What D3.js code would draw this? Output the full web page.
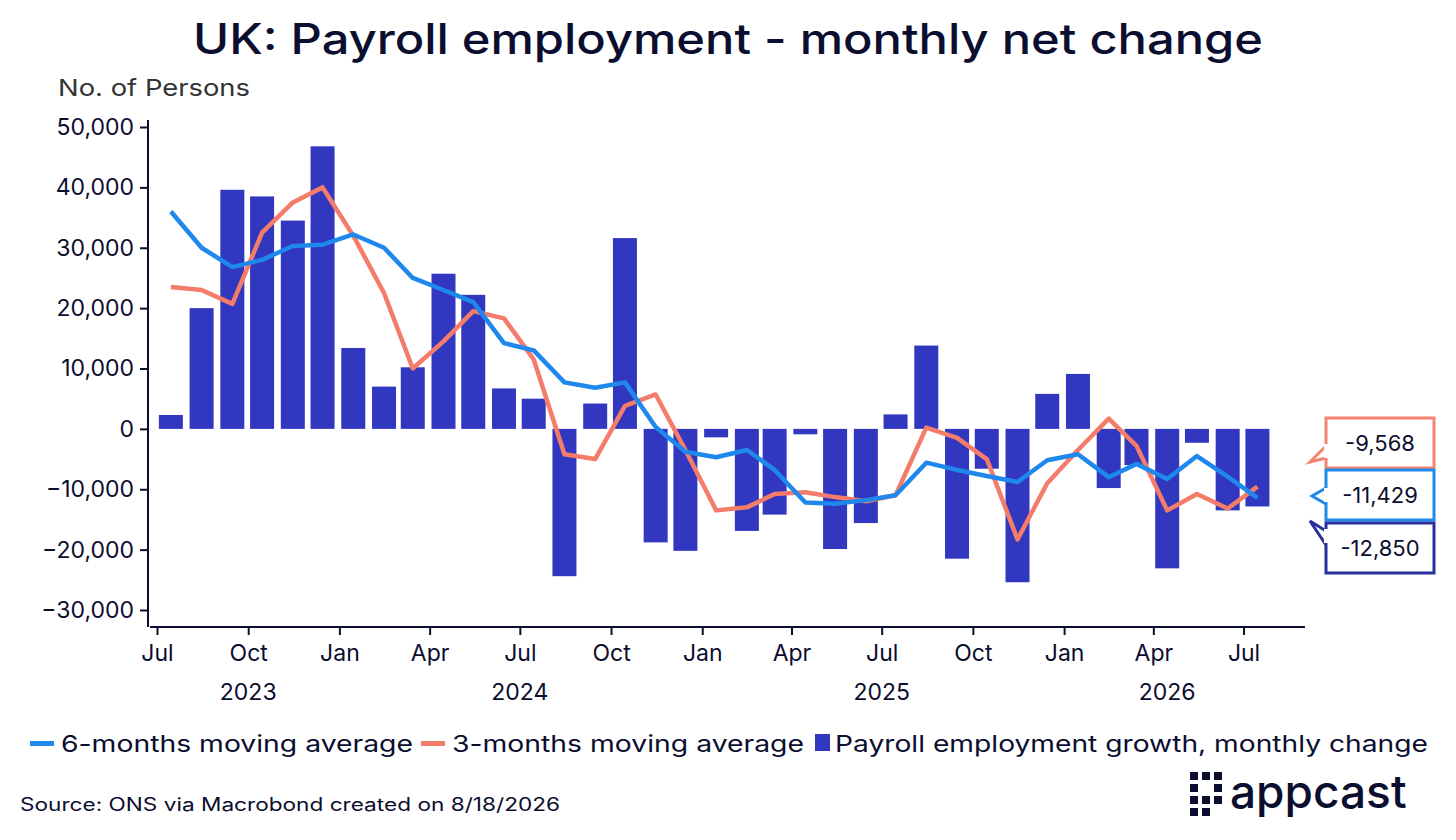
<!DOCTYPE html>
<html><head><meta charset="utf-8">
<script src="https://cdn.jsdelivr.net/npm/d3@7"></script>
<style>body{margin:0;background:#fff;font-family:Inter,"Noto Sans",sans-serif;color:#0b0e2e}</style>
</head><body>
<script>
// monthly values, Jul 2023 .. Jul 2026
var months = d3.timeMonths(new Date(2023, 6, 1), new Date(2026, 7, 1));
var payroll = [2300, 20000, 39600, 38500, 34500, 46800, 13400, 7000, 10200, 25700, 22200, 6700, 5000, -24400, 4200, 31600, -18800, -20200,
  -1400, -16900, -14200, -900, -19900, -15600, 2400, 13800, -21500, -6600, -25400, 5800, 9100, -9800, -6000, -23100, -2300, -13500, -12850];
var ma3 = [23500, 23000, 20700, 32500, 37500, 40000, 32000, 22500, 10000, 14500, 19500, 18300, 11500, -4200, -5000, 3800, 5700, -3500,
  -13500, -13000, -10800, -10500, -11300, -12000, -11000, 200, -1500, -5000, -18300, -9000, -3500, 1700, -2800, -13500, -10800, -13200, -9568];
var ma6 = [36000, 30000, 26800, 28000, 30300, 30500, 32200, 30000, 25000, 23000, 21000, 14200, 13000, 7700, 6800, 7700, 300, -3800,
  -4700, -3500, -6800, -12200, -12400, -11800, -11000, -5600, -6800, -7800, -8800, -5200, -4200, -8000, -5800, -8300, -4500, -7900, -11429];
var yTicks = [50000, 40000, 30000, 20000, 10000, 0, -10000, -20000, -30000];
var years = [["2023", new Date(2023, 9, 1)], ["2024", new Date(2024, 6, 1)], ["2025", new Date(2025, 6, 1)], ["2026", new Date(2026, 3, 15)]];
var callouts = [["-9,568", -9568, "#f4846f"], ["-11,429", -11429, "#1e88ec"], ["-12,850", -12850, "#2a2f9e"]];

var BAR = "#3137bf", BLUE = "#1e88ec", RED = "#f47c6a", INK = "#0b0e2e";
var fmt = d3.format(",");

var svg = d3.select("body").append("svg").attr("width", 1456).attr("height", 840);
var x = d3.scaleTime().domain([new Date(2023, 6, 1), new Date(2026, 8, 1)]).range([157, 1305]);
var y = d3.scaleLinear().domain([-30000, 50000]).range([610, 127]);
var mid = function (d) { return x(new Date(d.getFullYear(), d.getMonth(), 15)); };

function stretch(sel, len) { return sel.attr("textLength", len).attr("lengthAdjust", "spacingAndGlyphs"); }

stretch(svg.append("text").attr("x", 193).attr("y", 54), 1070)
  .attr("font-size", 42).attr("font-weight", 500).attr("fill", INK).text("UK: Payroll employment - monthly net change");
stretch(svg.append("text").attr("x", 58).attr("y", 96), 192).attr("font-size", 23).attr("fill", "#333").text("No. of Persons");

// bars
svg.append("g").selectAll("rect").data(payroll).join("rect")
  .attr("x", function (d, i) { return mid(months[i]) - 12; }).attr("width", 24)
  .attr("y", function (d) { return y(Math.max(0, d)); })
  .attr("height", function (d) { return Math.abs(y(d) - y(0)); })
  .attr("fill", BAR);

// lines
var line = function (vals) {
  return d3.line().x(function (d, i) { return mid(months[i]); }).y(function (d) { return y(d); })(vals);
};
svg.append("path").attr("d", line(ma3)).attr("fill", "none").attr("stroke", RED).attr("stroke-width", 4.5).attr("stroke-linejoin", "round");
svg.append("path").attr("d", line(ma6)).attr("fill", "none").attr("stroke", BLUE).attr("stroke-width", 4.5).attr("stroke-linejoin", "round");

// y axis
var ya = svg.append("g").attr("transform", "translate(148,0)")
  .call(d3.axisLeft(y).tickValues(yTicks).tickFormat(fmt).tickSize(8).tickPadding(6));
ya.select(".domain").attr("d", "M0,120V627").attr("stroke", INK).attr("stroke-width", 2);
ya.selectAll("line").attr("stroke", INK).attr("stroke-width", 2);
ya.selectAll("text").attr("font-size", 23).attr("fill", INK).attr("font-family", "Inter,sans-serif");

// x axis
var xa = svg.append("g").attr("transform", "translate(0,627)")
  .call(d3.axisBottom(x).ticks(d3.timeMonth.every(3)).tickFormat(d3.timeFormat("%b")).tickSize(8).tickPadding(10));
xa.select(".domain").attr("d", "M150,0H1305").attr("stroke", INK).attr("stroke-width", 2);
xa.selectAll("line").attr("stroke", INK).attr("stroke-width", 2);
xa.selectAll("text").attr("font-size", 23).attr("fill", INK).attr("font-family", "Inter,sans-serif");
svg.append("g").selectAll("text").data(years).join("text")
  .attr("x", function (d) { return x(d[1]); }).attr("y", 700).attr("text-anchor", "middle")
  .attr("font-size", 23).attr("fill", INK).text(function (d) { return d[0]; });

// callouts
var boxY = [418, 470, 523];
callouts.forEach(function (c, i) {
  var g = svg.append("g");
  var bx = 1326, by = boxY[i], w = 108, h = 50;
  var p;
  if (i === 0) p = "M" + bx + "," + (by + 28) + "L" + (bx - 16) + "," + (by + 44) + "L" + bx + "," + (by + 40);
  else if (i === 1) p = "M" + bx + "," + (by + 18) + "L" + (bx - 14) + "," + (by + 26) + "L" + bx + "," + (by + 34);
  else p = "M" + bx + "," + (by + 8) + "L" + (bx - 16) + "," + (by - 2) + "L" + bx + "," + (by + 22);
  g.append("rect").attr("x", bx).attr("y", by).attr("width", w).attr("height", h)
    .attr("fill", "#fff").attr("stroke", c[2]).attr("stroke-width", 3);
  g.append("path").attr("d", p).attr("fill", "#fff").attr("stroke", c[2]).attr("stroke-width", 3).attr("stroke-linejoin", "miter");
  g.append("rect").attr("x", bx - 2).attr("y", i === 2 ? by + 6 : (i === 0 ? by + 26 : by + 18)).attr("width", 4).attr("height", 14).attr("fill", "#fff");
  g.append("text").attr("x", bx + w / 2).attr("y", by + 33).attr("text-anchor", "middle")
    .attr("font-size", 22).attr("fill", INK).text(c[0]);
});

// legend
var leg = [["line", BLUE, "6-months moving average", 30, 352], ["line", RED, "3-months moving average", 421, 352], ["bar", BAR, "Payroll employment growth, monthly change", 815, 593]];
leg.forEach(function (l) {
  if (l[0] === "line") svg.append("rect").attr("x", l[3]).attr("y", 741).attr("width", 24).attr("height", 5).attr("fill", l[1]);
  else svg.append("rect").attr("x", l[3]).attr("y", 734).attr("width", 15).attr("height", 17).attr("fill", l[1]);
  stretch(svg.append("text").attr("x", l[3] + (l[0] === "line" ? 31 : 20)).attr("y", 752), l[4])
    .attr("font-size", 23).attr("fill", INK).text(l[2]);
});

stretch(svg.append("text").attr("x", 20).attr("y", 811), 540).attr("font-size", 18).attr("fill", INK).text("Source: ONS via Macrobond created on 8/18/2026");

// logo
var lg = svg.append("g").attr("transform", "translate(1190,772)");
var dots = [[0, 0], [12, 0], [24, 0], [0, 12], [24, 12], [0, 24], [12, 24], [24, 24], [12, 36], [0, 36]];
lg.selectAll("rect").data(dots).join("rect").attr("x", function (d) { return d[0]; }).attr("y", function (d) { return d[1]; })
  .attr("width", 8).attr("height", 8).attr("fill", INK);
lg.append("text").attr("x", 40).attr("y", 36).attr("font-size", 46).attr("font-weight", 500).attr("fill", INK).text("appcast");
</script>
</body></html>
